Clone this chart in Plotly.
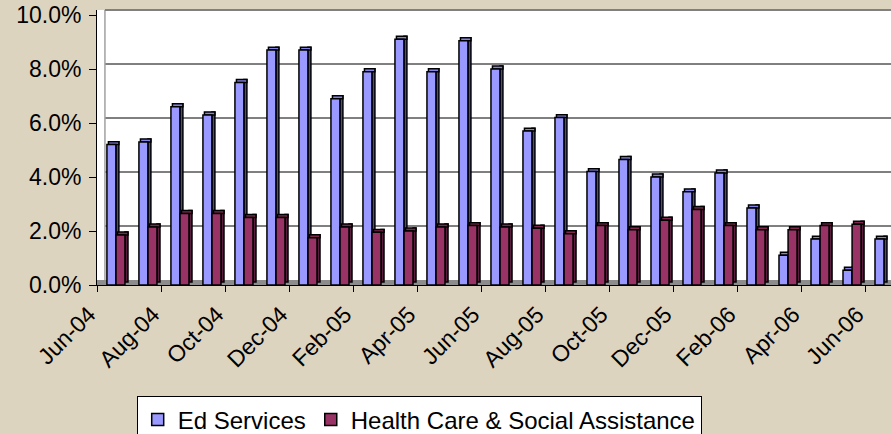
import plotly.graph_objects as go

months = ["Jun-04", "Jul-04", "Aug-04", "Sep-04", "Oct-04", "Nov-04", "Dec-04",
          "Jan-05", "Feb-05", "Mar-05", "Apr-05", "May-05", "Jun-05", "Jul-05",
          "Aug-05", "Sep-05", "Oct-05", "Nov-05", "Dec-05", "Jan-06", "Feb-06",
          "Mar-06", "Apr-06", "May-06", "Jun-06"]
ed_services = [5.2, 5.3, 6.6, 6.3, 7.5, 8.7, 8.7, 6.9, 7.9, 9.1, 7.9, 9.05, 8.0,
               5.7, 6.2, 4.2, 4.65, 4.0, 3.45, 4.15, 2.85, 1.1, 1.7, 0.55, 1.7]
health_care = [1.85, 2.15, 2.65, 2.65, 2.5, 2.5, 1.75, 2.15, 1.95, 2.0, 2.15, 2.2,
               2.15, 2.1, 1.9, 2.2, 2.05, 2.4, 2.8, 2.2, 2.05, 2.05, 2.2, 2.25, None]
y_ticks = [0, 2, 4, 6, 8, 10]
series_names = ["Ed Services", "Health Care & Social Assistance"]

# style constants
BLUE, BLUE_SIDE, BLUE_TOP = "#9999FF", "#4B4B9C", "#8484E6"
MAROON, MAROON_SIDE, MAROON_TOP = "#993366", "#5A1E3D", "#80284F"
DEPTH = 0.11          # 3D depth in value units
BACK = 0.185          # back wall shift of gridlines in value units
BG = "#DDD4C0"
FONT = "Liberation Sans, Arial, sans-serif"

x = list(range(len(months)))
line = dict(color="black", width=1.5)

fig = go.Figure()


def add_series(vals, name, front, side, top, off):
    w = 0.28
    d = 0.094
    # side face
    fig.add_trace(go.Bar(x=x, y=vals, base=DEPTH, offset=off + w, width=d,
                         marker=dict(color=side, line=line), showlegend=False,
                         hoverinfo="skip"))
    # top face
    fig.add_trace(go.Bar(x=x, y=[DEPTH if v is not None else None for v in vals],
                         base=vals, offset=off + d / 2, width=w + d / 2,
                         marker=dict(color=top, line=line), showlegend=False,
                         hoverinfo="skip"))
    # front face
    fig.add_trace(go.Bar(x=x, y=vals, name=name, offset=off, width=w,
                         marker=dict(color=front, line=line),
                         customdata=months,
                         hovertemplate="%{customdata}: %{y:.1f}%<extra>" + name + "</extra>"))


add_series(ed_services, series_names[0], BLUE, BLUE_SIDE, BLUE_TOP, -0.19)
add_series(health_care, series_names[1], MAROON, MAROON_SIDE, MAROON_TOP, 0.094)

shapes = []
# floor
shapes.append(dict(type="rect", xref="paper", yref="y", x0=0, x1=1, y0=0, y1=BACK,
                   fillcolor="#8C8C8C", line=dict(width=0), layer="below"))
# back wall gridlines
for t in y_ticks[1:-1]:
    shapes.append(dict(type="line", xref="paper", yref="y", x0=0.01, x1=1,
                       y0=t + BACK, y1=t + BACK, line=dict(color="black", width=1),
                       layer="below"))
# top border and left wall edge
shapes.append(dict(type="line", xref="paper", yref="paper", x0=0.01, x1=1, y0=1, y1=1,
                   line=dict(color="#808080", width=2)))
shapes.append(dict(type="line", xref="paper", yref="y", x0=0.01, x1=0.01, y0=BACK,
                   y1=y_ticks[-1] + BACK, line=dict(color="#A0A0A0", width=1.5),
                   layer="below"))

fig.update_layout(
    width=891, height=434,
    margin=dict(l=97, r=0, t=10, b=149, autoexpand=False),
    paper_bgcolor=BG, plot_bgcolor="white",
    barmode="overlay",
    font=dict(family=FONT, size=23, color="black"),
    shapes=shapes,
    showlegend=True,
    legend=dict(orientation="h", x=0.05, y=-0.405, xanchor="left", yanchor="top",
                bgcolor="white", bordercolor="black", borderwidth=1,
                font=dict(family=FONT, size=24, color="black"), itemwidth=30,
                traceorder="normal"),
)
fig.update_xaxes(
    range=[-0.5, 24.31], showgrid=False, zeroline=False, automargin=False,
    showline=True, linecolor="black", linewidth=1,
    tickmode="array", tickvals=[i - 0.5 for i in x[::2]], ticktext=months[::2],
    ticks="outside", ticklen=6, tickcolor="black", tickangle=-45,
    ticklabelshift=-8, ticklabeloverflow="allow",
    tickfont=dict(family=FONT, size=23, color="black"),
)
fig.update_yaxes(
    range=[0, 10.185], showgrid=False, zeroline=False, automargin=False,
    showline=True, linecolor="black", linewidth=1,
    tickmode="array", tickvals=y_ticks,
    ticktext=[f"{t:.1f}%" for t in y_ticks],
    ticks="outside", ticklen=7, tickcolor="black", ticklabelstandoff=3,
    ticklabeloverflow="allow",
    tickfont=dict(family=FONT, size=23, color="black"),
)

fig.write_html("out.html",
               config={"displayModeBar": False},
               post_script="document.body.style.margin='0';"
                           "document.body.style.background='" + BG + "';")
